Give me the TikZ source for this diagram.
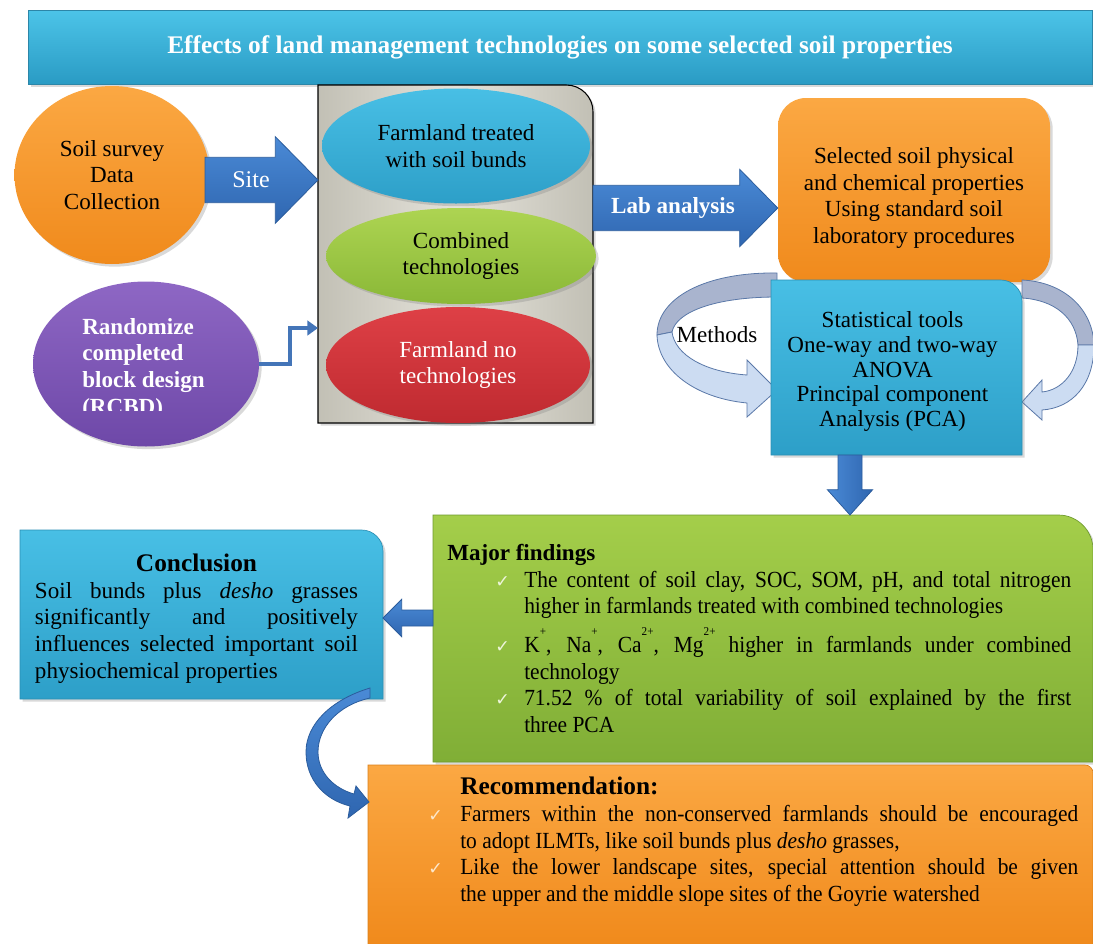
\documentclass[tikz,border=0pt]{standalone}
\usepackage{fontspec}
\setmainfont{Liberation Serif}
\newfontfamily\narrowfont{Liberation Serif}[FakeStretch=0.93]
\newfontfamily\tickfont{DejaVu Sans}
\usetikzlibrary{shapes.geometric, calc, shadows, arrows.meta}
\setlength{\parindent}{0pt}

\definecolor{titleTop}{HTML}{4CC4E8}
\definecolor{titleBot}{HTML}{2A9BC4}
\definecolor{titleEdge}{HTML}{2C86A8}
\definecolor{arrowTop}{HTML}{4A8AD6}
\definecolor{arrowBot}{HTML}{2F66B0}
\definecolor{arrowEdge}{HTML}{2B5C9C}
\definecolor{orangeTop}{HTML}{FBA843}
\definecolor{orangeBot}{HTML}{F08A1C}
\definecolor{grayEdge}{HTML}{C2C0B5}
\definecolor{grayMid}{HTML}{E4E2DA}
\definecolor{cyanTop}{HTML}{48BFE5}
\definecolor{cyanBot}{HTML}{2D9FC8}
\definecolor{cyanEdge}{HTML}{2B8FB4}
\definecolor{greenTop}{HTML}{ADD452}
\definecolor{greenBot}{HTML}{8AB837}
\definecolor{redTop}{HTML}{DE4046}
\definecolor{redBot}{HTML}{BF2A30}
\definecolor{purpleTop}{HTML}{8E67C4}
\definecolor{purpleBot}{HTML}{6E48A8}
\definecolor{findTop}{HTML}{A4CE4A}
\definecolor{findBot}{HTML}{80AE36}
\definecolor{findEdge}{HTML}{6E9A2E}
\definecolor{recEdge}{HTML}{D9801A}
\definecolor{methBack}{HTML}{A9B4CE}
\definecolor{methFront}{HTML}{CCDCF2}
\definecolor{methEdge}{HTML}{5A78A8}
\definecolor{tickGreen}{HTML}{EEF5DC}
\definecolor{tickOrange}{HTML}{FDE8CC}

% box with one rounded corner (top right), drawn from a frame node
\newcommand\cornerbox[3][]{%
  \path[#1] (#2.south west) -- (#2.north west) -- ([xshift=-#3]#2.north east)
    .. controls ([xshift=-0.448*#3]#2.north east) and ([yshift=-0.448*#3]#2.north east) .. ([yshift=-#3]#2.north east)
    -- (#2.south east) -- cycle;}
% block arrow: from, to, shaft half width, head half width, head length
\newcommand\blockarrow[6][]{%
  \coordinate (ba-base) at ($(#3)!#6!(#2)$);
  \path[#1] ($(#2)!#4!90:(#3)$) -- ($(ba-base)!#4!-90:(#2)$) -- ($(ba-base)!#5!-90:(#2)$) -- (#3)
    -- ($(ba-base)!#5!90:(#2)$) -- ($(ba-base)!#4!90:(#2)$) -- ($(#2)!#4!-90:(#3)$) -- cycle;}
\newcommand\tickmark[1]{\textcolor{#1}{\tickfont\fontsize{13}{13}\selectfont ✓}}
% indent, label width, text width, tick colour, text
\newcommand\tickitem[5]{\hspace*{#1}\makebox[#2][l]{\tickmark{#4}}\parbox[t]{#3}{\narrowfont\fontsize{17.3}{20}\selectfont\strut #5\strut}\par}
\newcommand\ionsup[1]{\raisebox{13pt}{\fontsize{9}{9}\selectfont #1}}

\tikzset{
  body/.style={font=\fontsize{17.3}{20}\selectfont, align=center, inner sep=0pt},
  frame/.style={rectangle, inner sep=0pt, outer sep=0pt},
  softshadow/.style={drop shadow={opacity=0.3, shadow xshift=2pt, shadow yshift=-2pt}},
  oval/.style={ellipse, outer sep=0pt, body, softshadow},
  titlebar/.style={frame, minimum width=798pt, minimum height=55.5pt, top color=titleTop, bottom color=titleBot,
    draw=titleEdge, line width=0.6pt, text=white, font=\fontsize{19}{22}\selectfont\bfseries, softshadow},
  barrow/.style={draw=arrowEdge, line width=0.6pt, top color=arrowTop, bottom color=arrowBot},
  varrow/.style={draw=arrowEdge, line width=0.6pt, left color=arrowTop, right color=arrowBot},
  elbowline/.style={draw=arrowBot!90!white, line width=3pt, -{Triangle[width=11pt,length=8pt]}},
  cyanfill/.style={top color=cyanTop, bottom color=cyanBot, draw=cyanEdge, line width=0.5pt, softshadow},
  findfill/.style={top color=findTop, bottom color=findBot, draw=findEdge, line width=0.5pt, softshadow},
  recfill/.style={top color=orangeTop, bottom color=orangeBot, draw=recEdge, line width=0.5pt, softshadow},
  methback/.style={fill=methBack, draw=methEdge, line width=0.6pt},
  methfront/.style={fill=methFront, draw=methEdge, line width=0.6pt},
}

\begin{document}
\begin{tikzpicture}[x=0.75pt, y=-0.75pt]
\clip (0,0) rectangle (1093,943);
% title
\node[titlebar] (title) at (560,47) {Effects of land management technologies on some selected soil properties};

% survey and design
\node[oval, minimum width=146.25pt, minimum height=133.5pt, top color=orangeTop, bottom color=orangeBot] (survey) at (112,175) {Soil survey\\Data\\Collection};
\node[oval, minimum width=169.5pt, minimum height=123.75pt, top color=purpleTop, bottom color=purpleBot] (rcbd) at (146,364) {};
\begin{scope}
  \clip (30,280) rectangle (262,410);
  \node[body, align=left, anchor=north west, text=white, font=\fontsize{17.3}{20}\selectfont\bfseries] (rcbdtext) at (82,318) {Randomize\\completed\\block design\\(RCBD)};
\end{scope}

% farmland types
\node[frame, minimum width=206.25pt, minimum height=253.5pt] (plots) at (455.5,254) {};
\cornerbox[draw=black, line width=0.8pt, left color=grayEdge, right color=grayEdge, middle color=grayMid, softshadow]{plots}{20pt}
\node[oval, minimum width=201pt, minimum height=86.25pt, top color=cyanTop, bottom color=cyanBot] (bunds) at (456,146) {Farmland treated\\with soil bunds};
\node[oval, minimum width=202.5pt, minimum height=72pt, top color=greenTop, bottom color=greenBot] (combined) at (461,256) {Combined\\technologies};
\node[oval, minimum width=198pt, minimum height=87pt, top color=redTop, bottom color=redBot, text=white] (notech) at (458,365) {Farmland no\\technologies};

\coordinate (bend) at (290,328);
\draw[elbowline] (rcbd.east) -| (bend) -- (plots.west |- bend);

\coordinate (siteA) at (205,180);
\coordinate (siteB) at (plots.west |- siteA);
\blockarrow[barrow]{siteA}{siteB}{17pt}{32.5pt}{32pt}
\node[body, text=white, font=\fontsize{18}{20}\selectfont] (sitelabel) at (251,180) {Site};

% lab analysis
\node[body, rounded corners=21pt, minimum width=204pt, minimum height=138pt, top color=orangeTop, bottom color=orangeBot, softshadow] (lab) at (914,190) {\rule{0pt}{24pt}Selected soil physical\\and chemical properties\\Using standard soil\\laboratory procedures};
\coordinate (labA) at (593,208);
\coordinate (labB) at (lab.west |- labA);
\blockarrow[barrow]{labA}{labB}{17pt}{29pt}{28.5pt}
\node[body, text=white, font=\fontsize{17.3}{20}\selectfont\bfseries] (lablabel) at (673,208) {Lab analysis};

% methods loops
\path[methback] (777,273) .. controls (705,272) and (657,298) .. (657,335) -- (672,332) .. controls (676,312) and (715,297) .. (777,297) -- cycle;
\path[methfront] (657,335) .. controls (658,370) and (695,398) .. (747,403) -- (747,417) -- (777,390) -- (747,360) -- (747,375) .. controls (705,372) and (675,355) .. (672,332) -- cycle;
\path[methback] (1022,280) .. controls (1065,282) and (1093,310) .. (1094,345) -- (1078,345) .. controls (1076,318) and (1055,300) .. (1022,298) -- cycle;
\path[methfront] (1094,345) .. controls (1094,385) and (1072,408) .. (1042,410) -- (1042,420) -- (1022,402) -- (1042,380) -- (1042,392) .. controls (1062,390) and (1078,372) .. (1078,345) -- cycle;
\node[body] (methods) at (717,335) {Methods};

\node[frame, minimum width=188.25pt, minimum height=131.25pt] (stats) at (896.5,367.5) {};
\cornerbox[cyanfill]{stats}{16pt}
\node[body, font=\fontsize{17.3}{18.4}\selectfont] (statstext) at ([xshift=-3pt,yshift=-3pt]stats.center) {Statistical tools\\One-way and two-way\\ANOVA\\Principal component\\Analysis (PCA)};

% findings
\node[frame, minimum width=495pt, minimum height=185.25pt] (findbox) at (763,638.5) {};
\cornerbox[findfill]{findbox}{26pt}
\node[body, align=justify, text width=468pt, anchor=north west] (findtext) at ([xshift=10.5pt,yshift=-21.75pt]findbox.north west) {%
  \lineskip=0pt
  \textbf{Major findings}\par
  \tickitem{36pt}{21.75pt}{410.25pt}{tickGreen}{The content of soil clay, SOC, SOM, pH, and total nitrogen\linebreak higher in farmlands treated with combined technologies}
  \vspace{4pt}
  \tickitem{36pt}{21.75pt}{410.25pt}{tickGreen}{K\ionsup{+}, Na\ionsup{+}, Ca\ionsup{2+}, Mg\ionsup{2+} higher in farmlands under combined\linebreak technology}
  \tickitem{36pt}{21.75pt}{410.25pt}{tickGreen}{71.52 \% of total variability of soil explained by the first\linebreak three PCA}};

\coordinate (downA) at (850,455);
\coordinate (downB) at (downA |- findbox.north);
\blockarrow[varrow]{downA}{downB}{9pt}{17pt}{19pt}

% conclusion
\node[frame, minimum width=272.25pt, minimum height=126.75pt] (concl) at (201.5,614.5) {};
\cornerbox[cyanfill]{concl}{16pt}
\node[body, align=justify, text width=242.25pt] (concltext) at ([xshift=-3.75pt,yshift=-3pt]concl.center) {%
  \centerline{\fontsize{19}{20}\selectfont\bfseries Conclusion}
  Soil bunds plus \textit{desho} grasses\linebreak significantly and positively\linebreak influences selected important soil\linebreak physiochemical properties};

\coordinate (leftA) at (433,618);
\coordinate (leftB) at (concl.east |- leftA);
\blockarrow[barrow]{leftA}{leftB}{6pt}{14pt}{14pt}

% recommendation
\node[frame, minimum width=543.75pt, minimum height=135pt] (recbox) at (730.5,855) {};
\cornerbox[recfill]{recbox}{6pt}
\node[body, align=justify, text width=487.5pt, anchor=north west] (rectext) at ([xshift=45pt,yshift=-9pt]recbox.north west) {%
  \lineskip=0pt
  \hspace*{24pt}{\fontsize{19}{20}\selectfont\bfseries Recommendation:}\par
  \tickitem{0pt}{24pt}{463.5pt}{tickOrange}{Farmers within the non-conserved farmlands should be encouraged\linebreak to adopt ILMTs, like soil bunds plus \textit{desho} grasses,}
  \tickitem{0pt}{24pt}{463.5pt}{tickOrange}{Like the lower landscape sites, special attention should be given\linebreak the upper and the middle slope sites of the Goyrie watershed}};

\path[barrow] (370,688) .. controls (330,700) and (306,725) .. (306,752) .. controls (306,780) and (325,800) .. (350,806) -- (348,818) -- (369,802) -- (356,786) -- (354,794) .. controls (333,788) and (318,772) .. (318,752) .. controls (318,728) and (338,705) .. (370,698) -- cycle;
\end{tikzpicture}
\end{document}
